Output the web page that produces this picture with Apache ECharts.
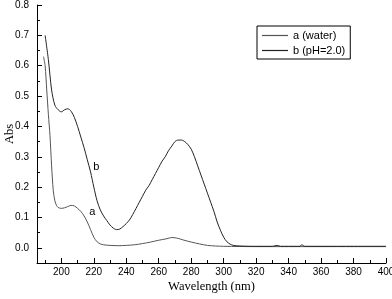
<!DOCTYPE html>
<html>
<head>
<meta charset="utf-8">
<script src="https://cdn.jsdelivr.net/npm/echarts@6/dist/echarts.min.js"></script>
<style>
html, body { margin: 0; padding: 0; background: #fff; }
#curve { width: 392px; height: 299px; }
</style>
</head>
<body>
<div id="curve"></div>
<script>
// 波长 / 吸光度
var nmB = [190, 192, 194, 196, 198, 200, 202, 204, 206, 208, 210, 212, 214, 216, 218, 220, 222, 224, 226, 228, 230, 232, 234, 236, 238, 240, 242, 244, 246, 248, 250, 252, 254, 256, 258, 260, 262, 264, 266, 268, 270, 272, 274, 276, 278, 280, 282, 284, 286, 288, 290, 292, 294, 296, 298, 300, 302, 304, 306, 310, 320, 330, 333, 335, 340, 347, 348, 350, 360, 370, 380, 390, 400];
var absB = [0.70, 0.62, 0.52, 0.47, 0.455, 0.448, 0.455, 0.458, 0.45, 0.43, 0.40, 0.365, 0.33, 0.29, 0.25, 0.20, 0.155, 0.125, 0.105, 0.09, 0.075, 0.065, 0.06, 0.062, 0.07, 0.08, 0.092, 0.11, 0.13, 0.15, 0.17, 0.19, 0.205, 0.225, 0.245, 0.265, 0.285, 0.30, 0.32, 0.335, 0.35, 0.355, 0.355, 0.35, 0.34, 0.325, 0.30, 0.27, 0.24, 0.21, 0.18, 0.15, 0.12, 0.085, 0.058, 0.035, 0.02, 0.012, 0.008, 0.006, 0.005, 0.005, 0.008, 0.005, 0.005, 0.005, 0.01, 0.005, 0.005, 0.005, 0.005, 0.005, 0.005];

var nmA = [189, 190, 191, 192, 193, 194, 195, 196, 197, 198, 200, 202, 204, 206, 208, 210, 212, 214, 216, 218, 220, 222, 224, 226, 230, 235, 240, 245, 250, 255, 260, 265, 268, 270, 272, 275, 280, 285, 290, 295, 300, 320, 340, 360, 380, 400];
var absA = [0.63, 0.60, 0.52, 0.44, 0.37, 0.27, 0.19, 0.155, 0.14, 0.133, 0.13, 0.132, 0.136, 0.14, 0.138, 0.13, 0.12, 0.105, 0.085, 0.06, 0.035, 0.02, 0.013, 0.01, 0.008, 0.007, 0.008, 0.01, 0.014, 0.019, 0.025, 0.03, 0.034, 0.033, 0.031, 0.026, 0.019, 0.013, 0.008, 0.006, 0.005, 0.004, 0.004, 0.004, 0.004, 0.004];

var xMajor = [200, 220, 240, 260, 280, 300, 320, 340, 360, 380, 400];
var xMinor = [190, 210, 230, 250, 270, 290, 310, 330, 350, 370, 390];
var yMajor = [0, 0.1, 0.2, 0.3, 0.4, 0.5, 0.6, 0.7, 0.8];
var yMinor = [0.05, 0.15, 0.25, 0.35, 0.45, 0.55, 0.65, 0.75];

function pairs(xs, ys) {
    return xs.map(function (x, i) { return [x, ys[i]]; });
}

var myChart = echarts.init(document.getElementById('curve'));
var labelFont = { color: '#000', fontSize: 10, fontFamily: 'Liberation Sans' };

var option = {
    animation: false,
    grid: { left: 37, right: 6, top: 5, bottom: 36, containLabel: false, outerBoundsMode: 'none' },
    legend: {
        orient: 'vertical',
        left: 257,
        top: 26,
        padding: [4, 5, 3, 5],
        itemGap: 4,
        itemWidth: 26,
        itemHeight: 1.2,
        icon: 'rect',
        borderColor: '#000',
        borderWidth: 1,
        borderRadius: 0,
        textStyle: { color: '#000', fontSize: 11, fontFamily: 'Liberation Sans' },
        data: ['a (water)', 'b (pH=2.0)']
    },
    xAxis: [
        {
            type: 'value', min: 185, max: 400,
            name: 'Wavelength (nm)', nameLocation: 'middle', nameGap: 17, nameMoveOverlap: false,
            nameTextStyle: { color: '#000', fontSize: 12.5, fontFamily: 'Liberation Serif', verticalAlign: 'top' },
            splitLine: { show: false },
            axisLine: { show: true, onZero: false, lineStyle: { color: '#000', width: 1 } },
            axisTick: { show: true, inside: true, length: 5, customValues: xMajor, lineStyle: { color: '#000' } },
            axisLabel: { show: true, customValues: xMajor, margin: 4, textStyle: labelFont }
        },
        {
            type: 'value', min: 185, max: 400, position: 'bottom',
            splitLine: { show: false },
            axisLine: { show: false, onZero: false },
            axisTick: { show: true, inside: true, length: 3, customValues: xMinor, lineStyle: { color: '#000' } },
            axisLabel: { show: false }
        }
    ],
    yAxis: [
        {
            type: 'value', min: -0.05, max: 0.8,
            name: 'Abs', nameLocation: 'middle', nameGap: 27, nameRotate: 90, nameMoveOverlap: false,
            nameTextStyle: { color: '#000', fontSize: 12.5, fontFamily: 'Liberation Serif', align: 'center', verticalAlign: 'middle' },
            splitLine: { show: false },
            axisLine: { show: true, onZero: false, lineStyle: { color: '#000', width: 1 } },
            axisTick: { show: true, inside: true, length: 5, customValues: yMajor, lineStyle: { color: '#000' } },
            axisLabel: {
                show: true, customValues: yMajor, margin: 8, textStyle: labelFont,
                formatter: function (v) { return v.toFixed(1); }
            }
        },
        {
            type: 'value', min: -0.05, max: 0.8, position: 'left',
            splitLine: { show: false },
            axisLine: { show: false, onZero: false },
            axisTick: { show: true, inside: true, length: 3, customValues: yMinor, lineStyle: { color: '#000' } },
            axisLabel: { show: false }
        }
    ],
    series: [
        {
            name: 'a (water)',
            type: 'line',
            symbol: 'none',
            smooth: 0.3,
            data: pairs(nmA, absA),
            lineStyle: { color: '#555', width: 1 },
            itemStyle: { color: '#555' },
            markPoint: {
                symbol: 'circle', symbolSize: 0,
                label: { show: true, formatter: 'a', color: '#000', fontSize: 11, fontFamily: 'Liberation Sans' },
                data: [{ coord: [219, 0.118] }]
            }
        },
        {
            name: 'b (pH=2.0)',
            type: 'line',
            symbol: 'none',
            smooth: 0.3,
            data: pairs(nmB, absB),
            lineStyle: { color: '#222', width: 1 },
            itemStyle: { color: '#222' },
            markPoint: {
                symbol: 'circle', symbolSize: 0,
                label: { show: true, formatter: 'b', color: '#000', fontSize: 11, fontFamily: 'Liberation Sans' },
                data: [{ coord: [221.5, 0.266] }]
            }
        }
    ]
};
myChart.setOption(option);
</script>
</body>
</html>
